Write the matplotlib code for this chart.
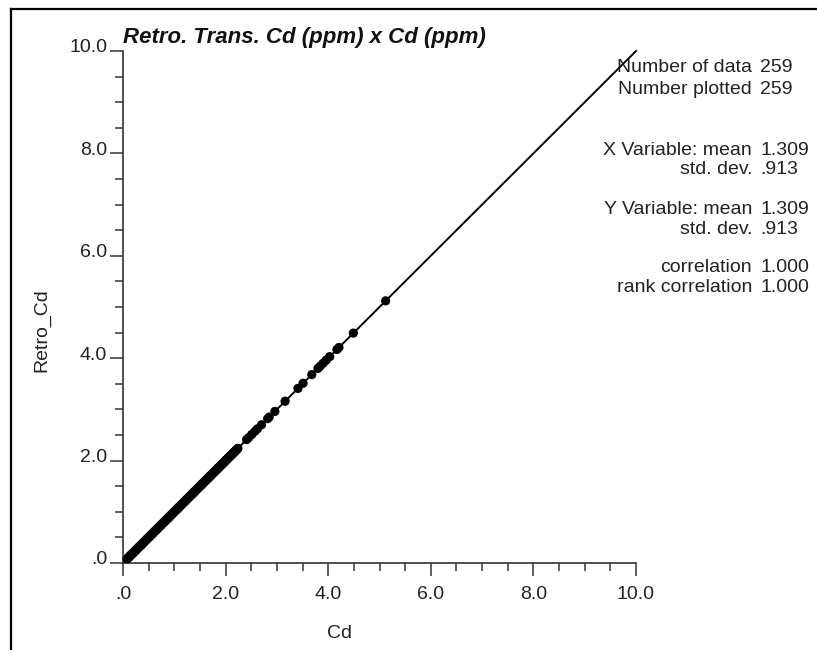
import matplotlib
matplotlib.use("Agg")
import matplotlib.pyplot as plt
from matplotlib.lines import Line2D
from matplotlib.ticker import MultipleLocator
from matplotlib.transforms import ScaledTranslation

plt.rcParams["font.family"] = ["Liberation Sans", "DejaVu Sans"]

# Cd values (ppm); the retro-transformed values are identical to the originals
cd_dense = [
    0.08, 0.09, 0.10, 0.10, 0.11, 0.12, 0.13, 0.14, 0.15, 0.15,
    0.16, 0.17, 0.18, 0.19, 0.20, 0.20, 0.21, 0.22, 0.23, 0.24,
    0.25, 0.25, 0.26, 0.27, 0.28, 0.29, 0.30, 0.30, 0.31, 0.32,
    0.33, 0.34, 0.35, 0.36, 0.36, 0.37, 0.38, 0.39, 0.40, 0.40,
    0.41, 0.42, 0.43, 0.44, 0.45, 0.46, 0.46, 0.47, 0.48, 0.49,
    0.50, 0.51, 0.52, 0.52, 0.53, 0.54, 0.55, 0.56, 0.57, 0.58,
    0.58, 0.59, 0.60, 0.61, 0.62, 0.63, 0.64, 0.65, 0.65, 0.66,
    0.67, 0.68, 0.69, 0.70, 0.71, 0.72, 0.73, 0.74, 0.74, 0.75,
    0.76, 0.77, 0.78, 0.79, 0.80, 0.80, 0.81, 0.82, 0.83, 0.84,
    0.85, 0.86, 0.87, 0.88, 0.89, 0.90, 0.90, 0.91, 0.92, 0.93,
    0.94, 0.95, 0.96, 0.97, 0.98, 0.99, 1.00, 1.01, 1.02, 1.03,
    1.04, 1.05, 1.06, 1.07, 1.08, 1.08, 1.09, 1.10, 1.11, 1.12,
    1.13, 1.14, 1.15, 1.16, 1.17, 1.18, 1.19, 1.20, 1.21, 1.22,
    1.23, 1.24, 1.25, 1.26, 1.27, 1.28, 1.29, 1.30, 1.31, 1.32,
    1.33, 1.34, 1.35, 1.36, 1.37, 1.38, 1.38, 1.39, 1.40, 1.41,
    1.42, 1.43, 1.44, 1.45, 1.46, 1.47, 1.48, 1.49, 1.50, 1.51,
    1.52, 1.53, 1.54, 1.55, 1.56, 1.57, 1.58, 1.59, 1.60, 1.61,
    1.62, 1.63, 1.64, 1.65, 1.66, 1.67, 1.68, 1.68, 1.69, 1.70,
    1.71, 1.72, 1.73, 1.74, 1.75, 1.76, 1.77, 1.78, 1.79, 1.80,
    1.81, 1.82, 1.83, 1.84, 1.85, 1.86, 1.87, 1.88, 1.89, 1.90,
    1.91, 1.92, 1.93, 1.94, 1.95, 1.96, 1.97, 1.98, 1.99, 2.00,
    2.01, 2.02, 2.03, 2.04, 2.05, 2.06, 2.07, 2.08, 2.09, 2.10,
    2.11, 2.12, 2.13, 2.14, 2.15, 2.16, 2.17, 2.18, 2.19, 2.20,
    2.21, 2.22, 2.23, 2.24, 0.12, 0.35, 0.88,
]
cd_tail = [
    2.41, 2.45, 2.51, 2.57, 2.62, 2.70, 2.82, 2.85, 2.96, 3.16,
    3.41, 3.51, 3.68, 3.80, 3.84, 3.90, 3.96, 4.03, 4.17, 4.21,
    4.49, 5.12,
]
cd = cd_dense + cd_tail
retro_cd = list(cd)

tick_values = [0, 2, 4, 6, 8, 10]
tick_labels = [".0", "2.0", "4.0", "6.0", "8.0", "10.0"]

stat_labels = ["Number of data", "Number plotted", "X Variable: mean", "std. dev.",
               "Y Variable: mean", "std. dev.", "correlation", "rank correlation"]
stat_values = ["259", "259", "1.309", ".913", "1.309", ".913", "1.000", "1.000"]
stat_rows_px = [68, 89, 150, 170, 210, 229, 268, 287]

W, H = 817, 650
FS = 14
fig = plt.figure(figsize=(W / 100, H / 100), dpi=100)
fig.patch.set_facecolor("white")

ax = fig.add_axes([123 / W, (H - 563) / H, 513 / W, 512 / H])
ax.set_xlim(0, 10)
ax.set_ylim(0, 10)
ax.set_facecolor("none")
for s in ("top", "right"):
    ax.spines[s].set_visible(False)
for s in ("left", "bottom"):
    ax.spines[s].set_color("#333333")
    ax.spines[s].set_linewidth(1.2)

ax.set_xticks(tick_values, tick_labels)
ax.set_yticks(tick_values, tick_labels)
ax.xaxis.set_minor_locator(MultipleLocator(0.5))
ax.yaxis.set_minor_locator(MultipleLocator(0.5))
ax.tick_params(which="major", length=9.5, width=1.1, color="#333333",
               labelsize=FS, labelcolor="#222222")
ax.tick_params(which="minor", length=5.5, width=1.1, color="#333333")
ax.tick_params(axis="x", which="major", pad=7)
ax.tick_params(axis="y", which="major", pad=2)
for lab in ax.get_yticklabels():
    lab.set_transform(lab.get_transform() + ScaledTranslation(0, 5 / 100, fig.dpi_scale_trans))

# 1:1 reference line and the data
ax.plot([0, 10], [0, 10], color="black", lw=1.4, zorder=2, clip_on=False)
ax.scatter(cd, retro_cd, s=44, color="black", edgecolors="none", zorder=3, clip_on=False)

# title and axis labels
fig.text(123 / W, 1 - 37 / H, "Retro. Trans. Cd (ppm) x Cd (ppm)", fontsize=16,
         fontweight="bold", fontstyle="italic", ha="left", va="center", color="#111111")
fig.text(340 / W, 1 - 633 / H, "Cd", fontsize=FS, ha="center", va="center", color="#222222")
fig.text(42 / W, 1 - 330 / H, "Retro_Cd", fontsize=FS, rotation=90,
         ha="center", va="center", color="#222222")

# summary statistics
for lab, val, ypx in zip(stat_labels, stat_values, stat_rows_px):
    fig.text(752 / W, 1 - ypx / H, lab, fontsize=FS, ha="right", va="center", color="#222222")
    fig.text(760 / W, 1 - ypx / H, val, fontsize=FS, ha="left", va="center", color="#222222")

# page frame
fig.add_artist(Line2D([11 / W, 11 / W], [0, 1 - 9 / H], transform=fig.transFigure,
                      color="black", lw=1.6))
fig.add_artist(Line2D([11 / W, 1], [1 - 9 / H, 1 - 9 / H], transform=fig.transFigure,
                      color="black", lw=1.6))

fig.savefig("out.png", dpi=100, facecolor="white")
